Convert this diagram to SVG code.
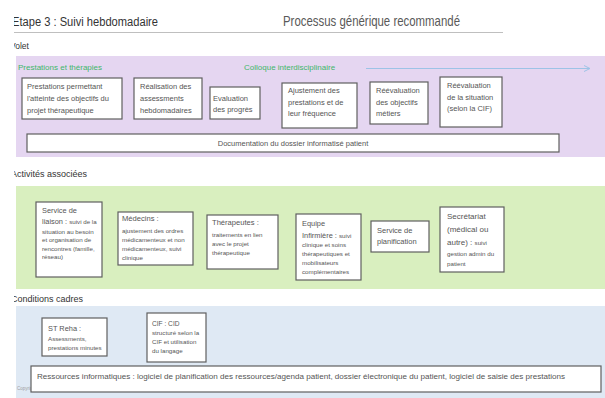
<svg xmlns="http://www.w3.org/2000/svg" width="605" height="398" viewBox="0 0 605 398">
<style>
.t{font-family:"Liberation Sans",Arial,sans-serif;fill:#555}
.h{font-family:"Liberation Sans",Arial,sans-serif;fill:#333}
.b{fill:#fff;stroke:#5f5f5f;stroke-width:1.2}
.m{font-size:7.5px}
.s{font-size:6.2px}
.g{font-family:"Liberation Sans",Arial,sans-serif;fill:#3fb66a;font-size:8px}
</style>
<defs>
<clipPath id="clip"><rect x="14" y="0" width="591" height="398"/></clipPath>
<marker id="arr" markerWidth="8" markerHeight="8" refX="7" refY="4" orient="auto" markerUnits="userSpaceOnUse">
<path d="M1,1 L7,4 L1,7" fill="none" stroke="#9dc3e6" stroke-width="1"/>
</marker>
</defs>
<rect width="605" height="398" fill="#fff"/>
<g clip-path="url(#clip)">
<text class="h" x="12" y="26" font-size="12.5" textLength="146" lengthAdjust="spacingAndGlyphs">Etape 3 : Suivi hebdomadaire</text>
<text x="283" y="26" font-family="Liberation Sans,Arial,sans-serif" font-size="14.5" fill="#595959" textLength="177" lengthAdjust="spacingAndGlyphs">Processus générique recommandé</text>
<line x1="14" y1="32.5" x2="503" y2="32.5" stroke="#bfbfbf" stroke-width="1"/>
<text class="h" x="10" y="49" font-size="8.5">Volet</text>
<text class="h" x="11" y="177" font-size="9">Activités associées</text>
<text class="h" x="11" y="302" font-size="9">Conditions cadres</text>
</g>
<rect x="16" y="56" width="589" height="101" fill="#e5d6f1"/>
<rect x="16" y="186" width="589" height="103" fill="#d9efbf"/>
<rect x="16" y="306" width="589" height="92" fill="#dfe9f4"/>
<text class="g" x="18" y="70">Prestations et thérapies</text>
<text class="g" x="244" y="70">Colloque interdisciplinaire</text>
<g id="connectors">
<line x1="366" y1="68.5" x2="590" y2="68.5" stroke="#9dc3e6" stroke-width="1" marker-end="url(#arr)"/>
</g>
<g id="n-prestations">
<rect class="b" x="22" y="78" width="100" height="41"/>
<text class="t m" x="27" y="89">Prestations permettant</text>
<text class="t m" x="27" y="101">l'atteinte des objectifs du</text>
<text class="t m" x="27" y="113">projet thérapeutique</text>
</g>
<g id="n-realisation">
<rect class="b" x="134" y="78" width="68" height="41"/>
<text class="t m" x="140" y="89">Réalisation des</text>
<text class="t m" x="140" y="101">assessments</text>
<text class="t m" x="140" y="113">hebdomadaires</text>
</g>
<g id="n-evaluation">
<rect class="b" x="210" y="87" width="50" height="32"/>
<text class="t m" x="213" y="101">Evaluation</text>
<text class="t m" x="213" y="112">des progrès</text>
</g>
<g id="n-ajustement">
<rect class="b" x="282" y="83" width="75" height="45"/>
<text class="t m" x="288" y="93">Ajustement des</text>
<text class="t m" x="288" y="105">prestations et de</text>
<text class="t m" x="288" y="116">leur fréquence</text>
</g>
<g id="n-reeval-objectifs">
<rect class="b" x="370" y="82" width="58" height="42"/>
<text class="t m" x="376" y="93">Réévaluation</text>
<text class="t m" x="376" y="105">des objectifs</text>
<text class="t m" x="376" y="116">métiers</text>
</g>
<g id="n-reeval-situation">
<rect class="b" x="440" y="77" width="62" height="50"/>
<text class="t m" x="447" y="88">Réévaluation</text>
<text class="t m" x="447" y="100">de la situation</text>
<text class="t m" x="447" y="111">(selon la CIF)</text>
</g>
<g id="n-documentation">
<rect class="b" x="27" y="134" width="532" height="18"/>
<text class="t m" x="293" y="146" text-anchor="middle">Documentation du dossier informatisé patient</text>
</g>
<g id="n-liaison">
<rect class="b" x="36" y="202" width="66" height="75"/>
<text class="t" x="42" y="213" font-size="7.4">Service de</text>
<text class="t" x="42" y="224"><tspan font-size="7.4">liaison : </tspan><tspan font-size="6.2">suivi de la</tspan></text>
<text class="t s" x="42" y="234">situation au besoin</text>
<text class="t s" x="42" y="242">et organisation de</text>
<text class="t s" x="42" y="251">rencontres (famille,</text>
<text class="t s" x="42" y="259">réseau)</text>
</g>
<g id="n-medecins">
<rect class="b" x="118" y="212" width="75" height="53"/>
<text class="t" x="122" y="221" font-size="7.6">Médecins :</text>
<text class="t s" x="122" y="233">ajustement des ordres</text>
<text class="t s" x="122" y="242">médicamenteux et non</text>
<text class="t s" x="122" y="251">médicamenteux, suivi</text>
<text class="t s" x="122" y="260">clinique</text>
</g>
<g id="n-therapeutes">
<rect class="b" x="207" y="215" width="71" height="54"/>
<text class="t" x="212" y="225" font-size="7.6">Thérapeutes :</text>
<text class="t s" x="212" y="237">traitements en lien</text>
<text class="t s" x="212" y="246">avec le projet</text>
<text class="t s" x="212" y="255">thérapeutique</text>
</g>
<g id="n-infirmiere">
<rect class="b" x="296" y="214" width="65" height="66"/>
<text class="t" x="302" y="226" font-size="7.4">Equipe</text>
<text class="t" x="302" y="238"><tspan font-size="7.4">Infirmière : </tspan><tspan font-size="6.2">suivi</tspan></text>
<text class="t s" x="302" y="247">clinique et soins</text>
<text class="t s" x="302" y="256">thérapeutiques et</text>
<text class="t s" x="302" y="265">mobilisateurs</text>
<text class="t s" x="302" y="274">complémentaires</text>
</g>
<g id="n-planification">
<rect class="b" x="371" y="221" width="58" height="31"/>
<text class="t m" x="377" y="233">Service de</text>
<text class="t m" x="377" y="244">planification</text>
</g>
<g id="n-secretariat">
<rect class="b" x="440" y="207" width="64" height="65"/>
<text class="t" x="447" y="219" font-size="8">Secrétariat</text>
<text class="t" x="447" y="232" font-size="8">(médical ou</text>
<text class="t" x="447" y="245"><tspan font-size="8">autre) : </tspan><tspan font-size="6.2">suivi</tspan></text>
<text class="t s" x="447" y="256">gestion admin du</text>
<text class="t s" x="447" y="266">patient</text>
</g>
<g id="n-streha">
<rect class="b" x="42" y="318" width="65" height="38"/>
<text class="t" x="48" y="331" font-size="7.4">ST Reha :</text>
<text class="t s" x="48" y="341">Assessments,</text>
<text class="t s" x="48" y="350">prestations minutes</text>
</g>
<g id="n-cif">
<rect class="b" x="147" y="313" width="59" height="49"/>
<text class="t" x="152" y="326" font-size="6.6">CIF : CID</text>
<text class="t s" x="152" y="335">structuré selon la</text>
<text class="t s" x="152" y="344">CIF et utilisation</text>
<text class="t s" x="152" y="353">du langage</text>
</g>
<text x="17" y="390" font-family="Liberation Sans,Arial,sans-serif" font-size="4.5" fill="#a0a0a0">Copyright</text>
<g id="n-ressources">
<rect class="b" x="31" y="366" width="570" height="26"/>
<text class="t m" x="37" y="379" textLength="528" lengthAdjust="spacingAndGlyphs">Ressources informatiques : logiciel de planification des ressources/agenda patient, dossier électronique du patient, logiciel de saisie des prestations</text>
</g>
</svg>
